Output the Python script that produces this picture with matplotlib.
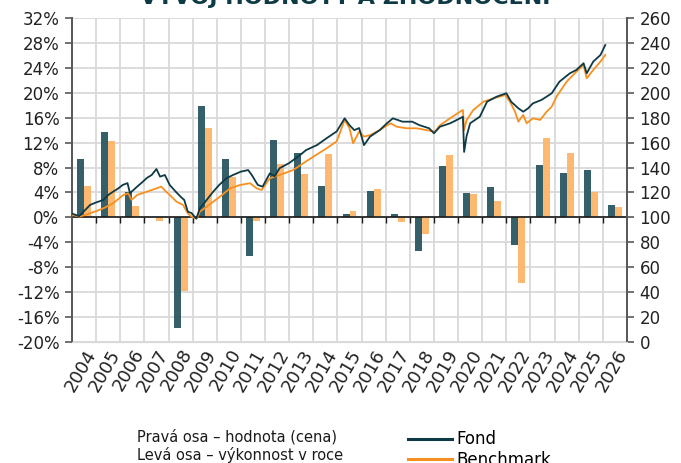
import matplotlib
matplotlib.use("Agg")
import matplotlib.pyplot as plt
from matplotlib.lines import Line2D
import numpy as np

# annual performance (left axis, %)
years = list(range(2004, 2027))
fond_pct = [9.3, 13.7, 4.0, 0.1, -17.7, 17.8, 9.3, -6.2, 12.4, 10.3, 5.1, 0.5,
            4.2, 0.6, -5.4, 8.2, 3.9, 4.8, -4.5, 8.4, 7.2, 7.65, 2.0]
bench_pct = [5.0, 12.2, 1.8, -0.6, -11.8, 14.4, 6.5, -0.6, 8.6, 7.0, 10.1, 1.1,
             4.5, -0.75, -2.6, 10.0, 3.7, 2.7, -10.5, 12.7, 10.3, 4.1, 1.7]

# value (right axis)
fond_t = [2004.0, 2004.15, 2004.3, 2004.5, 2004.75, 2005.0, 2005.3, 2005.5, 2005.7, 2005.9,
          2006.1, 2006.3, 2006.4, 2006.55, 2006.7, 2006.9, 2007.1, 2007.3, 2007.5, 2007.65,
          2007.85, 2008.05, 2008.3, 2008.5, 2008.65, 2008.8, 2008.95, 2009.15, 2009.3, 2009.5,
          2009.85, 2010.1, 2010.4, 2010.67, 2011.0, 2011.3, 2011.45, 2011.7, 2011.9, 2012.2,
          2012.4, 2012.6, 2013.0, 2013.45, 2013.7, 2014.15, 2014.55, 2014.97, 2015.3, 2015.5,
          2015.7, 2015.9, 2016.1, 2016.35, 2016.75, 2017.05, 2017.3, 2017.7, 2018.1, 2018.4,
          2018.8, 2019.0, 2019.25, 2019.67, 2020.08, 2020.2, 2020.25, 2020.35, 2020.5, 2020.9,
          2021.2, 2021.6, 2022.0, 2022.2, 2022.5, 2022.7, 2022.9, 2023.1, 2023.45, 2023.67,
          2023.88, 2024.2, 2024.63, 2024.9, 2025.2, 2025.33, 2025.6, 2025.9, 2026.1]
fond_v = [103, 102, 101, 105, 110, 112, 114, 118, 120.6, 123,
          126, 127.5, 119.6, 122, 124.7, 128, 131.6, 134, 138.8, 132.7,
          134, 126, 120.6, 116.6, 114, 104.6, 103.5, 99, 107.3, 112,
          120.6, 126, 131.4, 134, 136.7, 138, 134, 126, 124.7, 135.4,
          133, 139.4, 143.6, 150, 154, 158, 163.5, 169, 179.5, 174,
          170, 171.7, 158, 164.8, 170, 175.5, 179.5, 176.8, 176.8, 174,
          171.5, 167.5, 172.8, 175.5, 179.5, 180.8, 152.5, 165, 175.5, 180.8,
          192.8, 196.9, 199.6, 192.8, 187.5, 184.8, 187.5, 191.5, 194.2, 196.9,
          199.6, 208.9, 215.6, 218.3, 223.7, 215.6, 225, 230.3, 238.3]

bench_t = [2004.0, 2004.33, 2004.75, 2005.0, 2005.3, 2005.7, 2006.13, 2006.33, 2006.47, 2006.7,
           2007.1, 2007.5, 2007.7, 2007.9, 2008.05, 2008.33, 2008.6, 2008.8, 2008.95, 2009.17,
           2009.3, 2009.58, 2010.13, 2010.55, 2010.96, 2011.38, 2011.65, 2011.86, 2012.2, 2012.6,
           2013.17, 2013.58, 2014.0, 2014.55, 2014.97, 2015.3, 2015.5, 2015.65, 2015.9, 2016.1,
           2016.35, 2016.75, 2017.2, 2017.45, 2017.87, 2018.28, 2018.7, 2019.04, 2019.25, 2019.67,
           2020.08, 2020.2, 2020.25, 2020.35, 2020.63, 2021.05, 2021.46, 2021.95, 2022.15, 2022.36,
           2022.5, 2022.7, 2022.84, 2023.1, 2023.4, 2023.67, 2023.88, 2024.08, 2024.5, 2024.9,
           2025.2, 2025.33, 2025.6, 2025.9, 2026.1]
bench_v = [102, 100.6, 103.3, 105, 107.3, 111.3, 118, 119.3, 114, 118,
           120.6, 123.3, 124.7, 120.6, 118, 112.6, 110, 103.3, 100.6, 99,
           104.6, 108.6, 116.6, 123.3, 126, 127.4, 123.3, 122, 131.4, 134,
           138, 143.4, 148.7, 155.4, 161, 178.2, 171.5, 159.5, 168.8, 164.8,
           166, 170, 175.5, 172.8, 171.5, 171.5, 170, 168.8, 174, 179.5,
           184.8, 186.2, 170, 178, 186.2, 192.8, 195.5, 198.2, 192.8, 184.8,
           176.8, 182.2, 175.5, 179.5, 178.2, 184.8, 188.8, 196.9, 208.9, 216.9,
           222.3, 211.6, 218.3, 225, 230.3]

teal = "#0e3a45"
teal_bar = "#2a5661"
orange = "#f7901e"
orange_bar = "#fdb46a"
grid_c = "#d9d9d9"
spine_c = "#595959"
fs = 12

plt.rcParams["font.family"] = "DejaVu Sans"

fig = plt.figure(figsize=(6.81, 4.63), dpi=100)
ax = fig.add_axes([72 / 681, 1 - 342 / 463, 555 / 681, 324 / 463])
ax2 = ax.twinx()

x = np.array(years) + 0.5
w = 0.29
ax.bar(x - w / 2, fond_pct, width=w, color=teal_bar, alpha=0.95, zorder=2)
ax.bar(x + w / 2, bench_pct, width=w, color=orange_bar, alpha=0.95, zorder=2)

ax.set_xlim(2004, 2027)
ax.set_ylim(-20, 32)
ax.set_yticks(np.arange(-20, 33, 4))
ax.set_yticklabels([f"{v}%" for v in range(-20, 33, 4)], fontsize=fs, color="#222222")
ax.set_xticks(range(2004, 2028))
ax.set_xticklabels([])
ax.tick_params(axis="x", length=0)
ax.set_xticks(x, minor=True)
ax.set_xticklabels([str(y) for y in years], minor=True, rotation=60,
                   ha="right", rotation_mode="anchor", fontsize=13, color="#222222")
ax.tick_params(axis="x", which="minor", length=0, pad=3)
ax.grid(True, color=grid_c, lw=1.3, zorder=0)
ax.set_axisbelow(True)

# zero line with year tick marks
ax.axhline(0, color="#1a1a1a", lw=1.2, zorder=3)
ax.vlines(range(2005, 2027), -0.85, 0, color="#1a1a1a", lw=1.0, zorder=3)

for a in (ax, ax2):
    a.spines["top"].set_visible(False)
    a.spines["bottom"].set_color(grid_c)
    a.spines["left"].set_color(spine_c)
    a.spines["right"].set_color(spine_c)
    a.spines["left"].set_linewidth(1.3)
    a.spines["right"].set_linewidth(1.3)
ax.tick_params(axis="y", direction="out", length=5, color=spine_c, width=1.2, pad=4)

ax2.plot(bench_t, bench_v, color=orange, lw=1.3, zorder=4)
ax2.plot(fond_t, fond_v, color=teal, lw=1.3, zorder=5)
ax2.set_ylim(0, 260)
ax2.set_yticks(range(0, 261, 20))
ax2.set_yticklabels([str(v) for v in range(0, 261, 20)], fontsize=fs, color="#222222")
ax2.tick_params(axis="y", direction="out", length=5, color=spine_c, width=1.2, pad=4)
ax.set_zorder(1)
ax2.set_zorder(2)
ax2.patch.set_visible(False)

fig.text(345 / 681, 1 - 4 / 463, "VÝVOJ HODNOTY A ZHODNOCENÍ", ha="center",
         va="baseline", fontsize=16, fontweight="bold", color=teal)

fig.text(137 / 681, 1 - 437 / 463, "Pravá osa – hodnota (cena)", fontsize=10.5,
         va="center", color="#1a1a1a")
fig.text(137 / 681, 1 - 455 / 463, "Levá osa – výkonnost v roce", fontsize=10.5,
         va="center", color="#1a1a1a")

handles = [Line2D([], [], color=teal, lw=2.2), Line2D([], [], color=orange, lw=2.2)]
fig.legend(handles, ["Fond", "Benchmark"], loc="upper left",
           bbox_to_anchor=(400 / 681, 1 - 422 / 463), frameon=False,
           fontsize=12, handlelength=2.6, handletextpad=0.3, labelspacing=0.15,
           borderpad=0)

fig.savefig("out.png", dpi=100)
